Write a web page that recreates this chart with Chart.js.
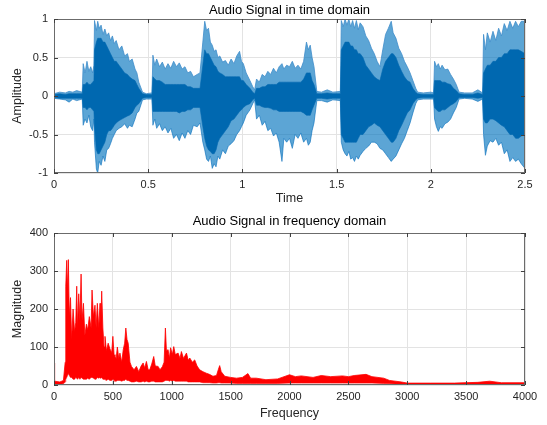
<!DOCTYPE html>
<html>
<head>
<meta charset="utf-8">
<script src="https://cdn.jsdelivr.net/npm/chart.js@4"></script>
<style>
  body { margin: 0; background: #fff; }
  canvas { position: absolute; left: 0; }
  #time_chart { top: 0; }
  #freq_chart { top: 210px; }
</style>
</head>
<body>
<canvas id="time_chart" width="547" height="210"></canvas>
<canvas id="freq_chart" width="547" height="215"></canvas>
<script>
// time domain envelopes (seconds / amplitude)
// one line per stretch of the recording
const time_t = [
  0, 0.03, 0.06, 0.08, 0.10, 0.12, 0.15,
  0.155, 0.165, 0.175, 0.185, 0.195, 0.205, 0.212,
  0.215, 0.225, 0.232, 0.24, 0.25, 0.26, 0.27, 0.28, 0.29, 0.30, 0.31, 0.32, 0.33, 0.345, 0.36, 0.375, 0.39, 0.40, 0.415, 0.43, 0.44, 0.45, 0.47,
  0.49, 0.52,
  0.525, 0.535, 0.545, 0.56, 0.575, 0.59, 0.605, 0.62, 0.635, 0.65, 0.665, 0.68, 0.695, 0.71, 0.725, 0.74, 0.76, 0.775,
  0.79, 0.80, 0.81, 0.82, 0.83, 0.84, 0.85, 0.86, 0.87, 0.88, 0.895, 0.91, 0.925, 0.94, 0.955, 0.97, 0.985, 0.995, 1.005, 1.02, 1.04, 1.055, 1.065,
  1.075, 1.09, 1.105, 1.12, 1.135, 1.15, 1.165, 1.18, 1.195, 1.21, 1.22, 1.235, 1.25, 1.265, 1.28, 1.295, 1.31, 1.325, 1.34, 1.35, 1.36, 1.37, 1.38,
  1.395, 1.42, 1.45, 1.48, 1.52,
  1.525, 1.535, 1.545, 1.555, 1.565, 1.575, 1.585, 1.595, 1.605, 1.615, 1.625, 1.64, 1.655, 1.67, 1.685, 1.70, 1.715, 1.73, 1.745, 1.76, 1.775, 1.79, 1.80, 1.815, 1.83, 1.845, 1.86, 1.875, 1.89, 1.905, 1.92, 1.93,
  1.96, 2.0, 2.015,
  2.02, 2.03, 2.04, 2.05, 2.06, 2.075, 2.09, 2.105, 2.12, 2.135, 2.15,
  2.18, 2.22, 2.25, 2.275,
  2.28, 2.29, 2.30, 2.315, 2.33, 2.345, 2.36, 2.375, 2.39, 2.405, 2.42, 2.435, 2.45, 2.465, 2.48, 2.5,
];
const outer_hi = [
  0.03, 0.05, 0.04, 0.06, 0.05, 0.07, 0.05,
  0.42, 0.3, 0.45, 0.32, 0.38, 0.3, 0.4,
  0.98, 0.85, 0.97, 0.88, 0.92, 0.8, 0.87, 0.78, 0.82, 0.72, 0.78, 0.68, 0.72, 0.6, 0.65, 0.52, 0.55, 0.45, 0.48, 0.35, 0.3, 0.18, 0.05,
  0.03, 0.04,
  0.53, 0.4, 0.48, 0.38, 0.44, 0.35, 0.42, 0.36, 0.45, 0.38, 0.43, 0.35, 0.38, 0.3, 0.32, 0.25, 0.28, 0.3,
  0.7, 0.97, 0.85, 0.88, 0.7, 0.66, 0.58, 0.6, 0.5, 0.52, 0.44, 0.46, 0.4, 0.48, 0.42, 0.52, 0.58, 0.45, 0.42, 0.3, 0.2, 0.12, 0.08,
  0.22, 0.18, 0.28, 0.25, 0.32, 0.28, 0.36, 0.3, 0.38, 0.42, 0.35, 0.4, 0.38, 0.45, 0.36, 0.4, 0.35, 0.45, 0.7, 0.6, 0.66, 0.5, 0.38,
  0.06, 0.05, 0.08, 0.05, 0.06,
  0.98, 0.9, 1.0, 0.92, 1.0, 0.9, 0.98, 0.88, 0.98, 0.86, 0.95, 0.9, 0.78, 0.72, 0.62, 0.55, 0.45, 0.38, 0.6, 0.8, 0.88, 0.97, 0.82, 0.75, 0.62, 0.55, 0.45, 0.38, 0.3, 0.2, 0.1, 0.05,
  0.04, 0.05, 0.04,
  0.45, 0.38, 0.42, 0.35, 0.4, 0.34, 0.35, 0.28, 0.22, 0.15, 0.05,
  0.04, 0.04, 0.08, 0.04,
  0.8, 0.6, 0.82, 0.7, 0.84, 0.72, 0.88, 0.78, 0.94, 0.85, 0.97, 0.88, 0.97, 0.9, 0.97, 0.97,
];
const outer_lo = [
  -0.03, -0.04, -0.05, -0.08, -0.04, -0.06, -0.04,
  -0.38, -0.3, -0.35, -0.25, -0.4, -0.45, -0.3,
  -0.6, -0.95, -1.0, -0.85, -0.9, -0.78, -0.85, -0.7, -0.68, -0.62, -0.55, -0.5, -0.45, -0.42, -0.4, -0.36, -0.42, -0.38, -0.4, -0.3, -0.22, -0.2, -0.05,
  -0.04, -0.04,
  -0.38, -0.3, -0.42, -0.36, -0.45, -0.4, -0.48, -0.42, -0.55, -0.5, -0.58, -0.48, -0.55, -0.45, -0.5, -0.38, -0.4, -0.35,
  -0.6, -0.7, -0.82, -0.85, -0.78, -0.94, -0.88, -0.92, -0.78, -0.82, -0.7, -0.75, -0.65, -0.62, -0.58, -0.5, -0.45, -0.4, -0.35, -0.25, -0.18, -0.1, -0.05,
  -0.3, -0.25, -0.38, -0.33, -0.45, -0.42, -0.52, -0.48, -0.6, -0.85, -0.55, -0.6, -0.55, -0.68, -0.5, -0.55, -0.48, -0.6, -0.55, -0.64, -0.6, -0.45, -0.35,
  -0.06, -0.06, -0.08, -0.05, -0.06,
  -0.6, -0.7, -0.75, -0.78, -0.72, -0.82, -0.8, -0.85, -0.78, -0.82, -0.77, -0.72, -0.68, -0.65, -0.6, -0.6, -0.62, -0.68, -0.7, -0.75, -0.8, -0.85, -0.82, -0.78, -0.7, -0.62, -0.55, -0.45, -0.35, -0.22, -0.1, -0.05,
  -0.04, -0.04, -0.04,
  -0.3, -0.4, -0.46, -0.4, -0.42, -0.36, -0.34, -0.3, -0.22, -0.15, -0.04,
  -0.03, -0.04, -0.07, -0.04,
  -0.5, -0.77, -0.65, -0.58, -0.6, -0.55, -0.64, -0.6, -0.75, -0.7, -0.85, -0.8, -0.85, -0.82, -0.88, -0.94,
];
const inner_hi = [
  0.02, 0.03, 0.02, 0.03, 0.03, 0.03, 0.03,
  0.15, 0.15, 0.18, 0.15, 0.15, 0.18, 0.2,
  0.6, 0.7, 0.75, 0.75, 0.75, 0.7, 0.7, 0.65, 0.6, 0.55, 0.5, 0.45, 0.45, 0.4, 0.35, 0.3, 0.28, 0.25, 0.22, 0.2, 0.15, 0.1, 0.03,
  0.02, 0.02,
  0.25, 0.22, 0.2, 0.2, 0.18, 0.15, 0.15, 0.15, 0.15, 0.15, 0.15, 0.15, 0.15, 0.12, 0.12, 0.1, 0.1, 0.1,
  0.4, 0.6, 0.55, 0.55, 0.5, 0.45, 0.4, 0.38, 0.32, 0.3, 0.28, 0.25, 0.25, 0.25, 0.25, 0.25, 0.25, 0.2, 0.2, 0.15, 0.1, 0.05, 0.03,
  0.1, 0.1, 0.12, 0.12, 0.15, 0.15, 0.15, 0.15, 0.18, 0.18, 0.18, 0.18, 0.18, 0.18, 0.18, 0.18, 0.18, 0.22, 0.3, 0.3, 0.3, 0.2, 0.15,
  0.03, 0.03, 0.04, 0.03, 0.03,
  0.6, 0.65, 0.7, 0.7, 0.7, 0.65, 0.65, 0.6, 0.6, 0.55, 0.55, 0.5, 0.4, 0.35, 0.3, 0.25, 0.22, 0.2, 0.35, 0.45, 0.5, 0.55, 0.55, 0.5, 0.4, 0.32, 0.25, 0.2, 0.18, 0.1, 0.05, 0.03,
  0.02, 0.02, 0.02,
  0.2, 0.2, 0.2, 0.2, 0.18, 0.18, 0.16, 0.15, 0.1, 0.07, 0.03,
  0.02, 0.02, 0.04, 0.02,
  0.3, 0.35, 0.4, 0.4, 0.45, 0.45, 0.5, 0.5, 0.55, 0.55, 0.6, 0.6, 0.6, 0.6, 0.58, 0.55,
];
const inner_lo = [
  -0.02, -0.03, -0.03, -0.03, -0.03, -0.03, -0.03,
  -0.15, -0.15, -0.18, -0.15, -0.15, -0.18, -0.2,
  -0.4, -0.7, -0.75, -0.75, -0.7, -0.65, -0.6, -0.5, -0.45, -0.45, -0.42, -0.38, -0.35, -0.32, -0.3, -0.28, -0.26, -0.25, -0.22, -0.15, -0.12, -0.1, -0.03,
  -0.02, -0.02,
  -0.2, -0.2, -0.2, -0.2, -0.2, -0.2, -0.2, -0.2, -0.2, -0.2, -0.22, -0.2, -0.2, -0.18, -0.18, -0.15, -0.15, -0.15,
  -0.4, -0.55, -0.65, -0.7, -0.72, -0.75, -0.75, -0.7, -0.6, -0.55, -0.5, -0.45, -0.4, -0.32, -0.3, -0.25, -0.2, -0.18, -0.15, -0.12, -0.1, -0.05, -0.03,
  -0.12, -0.12, -0.14, -0.15, -0.15, -0.16, -0.18, -0.18, -0.2, -0.2, -0.2, -0.2, -0.2, -0.2, -0.2, -0.2, -0.2, -0.22, -0.25, -0.25, -0.25, -0.18, -0.12,
  -0.03, -0.03, -0.04, -0.03, -0.03,
  -0.5, -0.55, -0.6, -0.6, -0.6, -0.6, -0.6, -0.6, -0.6, -0.55, -0.5, -0.5, -0.45, -0.4, -0.38, -0.35, -0.38, -0.4, -0.45, -0.5, -0.55, -0.6, -0.6, -0.55, -0.45, -0.38, -0.3, -0.22, -0.18, -0.1, -0.05, -0.03,
  -0.02, -0.02, -0.02,
  -0.15, -0.18, -0.2, -0.2, -0.18, -0.18, -0.15, -0.12, -0.1, -0.07, -0.02,
  -0.02, -0.02, -0.03, -0.02,
  -0.3, -0.35, -0.35, -0.3, -0.3, -0.32, -0.35, -0.38, -0.4, -0.45, -0.5, -0.5, -0.55, -0.55, -0.52, -0.5,
];
const time_ticks = [0, 0.5, 1, 1.5, 2, 2.5];
const amp_ticks = [-1, -0.5, 0, 0.5, 1];

// frequency domain envelope (Hz / magnitude)
const freq_f = [0, 5, 50, 80, 95, 100, 108, 115, 122, 130, 140, 150, 162, 175, 185, 193, 200, 210, 220, 230,
  238, 250, 262, 275, 286, 300, 315, 323, 335, 348, 358, 368, 380, 391, 398, 405, 415, 425, 433, 445,
  460, 475, 490, 500, 510, 518, 528, 538, 550, 560, 575, 588, 600, 610, 620, 630, 645, 658, 680, 700,
  720, 740, 757, 770, 785, 800, 813, 830, 847, 860, 884, 900, 920, 935, 946, 955, 969, 980, 990, 1005,
  1017, 1030, 1054, 1070, 1082, 1100, 1125, 1140, 1153, 1175, 1195, 1215, 1237, 1265, 1294, 1320, 1350, 1380, 1395, 1407,
  1420, 1450, 1500, 1550, 1600, 1647, 1670, 1718, 1800, 1900, 2000, 2050, 2100, 2200, 2270, 2350, 2450, 2500, 2550, 2650,
  2700, 2800, 2850, 2950, 3000, 3200, 3400, 3600, 3700, 3800, 4000];
const mag_hi = [58, 10, 8, 12, 60, 260, 328, 250, 330, 180, 230, 120, 200, 140, 165, 260, 150, 240, 170, 292,
  170, 215, 130, 160, 145, 180, 150, 250, 180, 210, 150, 215, 150, 215, 160, 247, 150, 100, 128, 90,
  110, 95, 85, 128, 80, 75, 70, 100, 70, 84, 60, 93, 110, 150, 120, 110, 60, 49, 40, 49,
  35, 50, 58, 45, 62, 40, 40, 55, 75, 50, 49, 40, 48, 60, 150, 90, 93, 70, 98, 80,
  101, 80, 84, 70, 88, 70, 84, 65, 71, 60, 66, 50, 40, 35, 31, 28, 23, 25, 40, 51,
  35, 23, 20, 18, 20, 30, 18, 18, 14, 16, 27, 22, 24, 20, 25, 22, 24, 22, 25, 28,
  22, 18, 12, 8, 5, 5, 5, 7, 10, 6, 6];
const mag_lo = [0, 2, 2, 3, 8, 15, 20, 25, 30, 25, 20, 20, 15, 15, 20, 18, 15, 20, 15, 20,
  18, 15, 15, 15, 18, 15, 20, 20, 18, 15, 15, 20, 18, 20, 18, 20, 15, 15, 15, 12,
  15, 12, 12, 15, 10, 10, 10, 12, 12, 12, 10, 12, 12, 15, 12, 12, 10, 8, 8, 10,
  8, 8, 10, 8, 10, 8, 8, 10, 10, 8, 8, 8, 8, 10, 12, 12, 12, 10, 12, 10,
  12, 10, 10, 10, 10, 10, 10, 8, 8, 8, 8, 8, 8, 6, 6, 6, 5, 5, 6, 6,
  5, 5, 5, 4, 4, 4, 4, 4, 4, 4, 5, 5, 5, 5, 5, 5, 5, 5, 5, 5,
  5, 4, 3, 2, 2, 2, 2, 2, 2, 2, 2];
const freq_ticks = [0, 500, 1000, 1500, 2000, 2500, 3000, 3500, 4000];
const mag_ticks = [0, 100, 200, 300, 400];

const FONT = "'Liberation Sans', Arial, sans-serif";
const TXT = "#262626";

function pts(xs, ys) {
  return xs.map((x, i) => ({ x: x, y: ys[i] }));
}

// box, inward ticks on all sides and title centred over the plot area
const box_plugin = {
  id: "box",
  afterDraw(chart, args, opts) {
    const { ctx, chartArea: a, scales } = chart;
    ctx.save();
    ctx.strokeStyle = "#6b6b6b";
    ctx.lineWidth = 1;
    ctx.strokeRect(Math.round(a.left) + 0.5, Math.round(a.top) + 0.5,
      Math.round(a.right - a.left) - 1, Math.round(a.bottom - a.top) - 1);
    ctx.strokeStyle = "#404040";
    ctx.beginPath();
    opts.xt.forEach((v) => {
      const px = Math.round(scales.x.getPixelForValue(v)) + 0.5;
      ctx.moveTo(px, a.bottom); ctx.lineTo(px, a.bottom - 4);
      ctx.moveTo(px, a.top); ctx.lineTo(px, a.top + 4);
    });
    opts.yt.forEach((v) => {
      const py = Math.round(scales.y.getPixelForValue(v)) + 0.5;
      ctx.moveTo(a.left, py); ctx.lineTo(a.left + 4, py);
      ctx.moveTo(a.right, py); ctx.lineTo(a.right - 4, py);
    });
    ctx.stroke();
    ctx.fillStyle = "#000";
    ctx.font = "13px " + FONT;
    ctx.textAlign = "center";
    ctx.textBaseline = "middle";
    ctx.fillText(opts.text, (a.left + a.right) / 2, opts.y);
    ctx.restore();
  },
};

function axes(xmin, xmax, xstep, xtitle, ymin, ymax, ystep, ytitle, xh) {
  const tick_font = { family: FONT, size: 11 };
  const title_font = { family: FONT, size: 12.5 };
  return {
    x: {
      type: "linear", min: xmin, max: xmax,
      afterFit: (s) => { s.height = xh; },
      ticks: { stepSize: xstep, color: TXT, font: tick_font, padding: 5, maxRotation: 0,
        callback: (v) => String(v) },
      grid: { color: "#e3e3e3", drawTicks: false },
      border: { display: false },
      title: { display: true, text: xtitle, color: TXT, font: title_font, padding: { top: 0, bottom: 4 } },
    },
    y: {
      type: "linear", min: ymin, max: ymax,
      afterFit: (s) => { s.width = 54; },
      ticks: { stepSize: ystep, color: TXT, font: tick_font, padding: 6,
        callback: (v) => String(v) },
      grid: { color: "#e3e3e3", drawTicks: false },
      border: { display: false },
      title: { display: true, text: ytitle, color: TXT, font: title_font, padding: { top: 10, bottom: 0 } },
    },
  };
}

const time_chart = new Chart(document.getElementById("time_chart"), {
  type: "line",
  data: {
    datasets: [
      { data: pts(time_t, inner_hi), borderColor: "#0068b0", backgroundColor: "#0068b0", borderWidth: 0.6, fill: "+1" },
      { data: pts(time_t, inner_lo), borderColor: "#0068b0", borderWidth: 0.6, fill: false },
      { data: pts(time_t, outer_hi), borderColor: "#3f8dca", backgroundColor: "rgba(0,114,189,0.64)", borderWidth: 0.8, fill: "+1" },
      { data: pts(time_t, outer_lo), borderColor: "#3f8dca", borderWidth: 0.8, fill: false },
    ],
  },
  options: {
    responsive: false,
    animation: false,
    devicePixelRatio: 1,
    layout: { padding: { left: 0, right: 22, top: 19, bottom: 0 } },
    elements: { point: { radius: 0 }, line: { tension: 0 } },
    plugins: {
      legend: { display: false },
      tooltip: { enabled: false },
      box: { text: "Audio Signal in time domain", y: 10, xt: time_ticks, yt: amp_ticks },
    },
    scales: axes(0, 2.5, 0.5, "Time", -1, 1, 0.5, "Amplitude", 37),
  },
  plugins: [box_plugin],
});

const freq_chart = new Chart(document.getElementById("freq_chart"), {
  type: "line",
  data: {
    datasets: [
      { data: pts(freq_f, mag_hi), borderColor: "#ff0000", backgroundColor: "#ff0000", borderWidth: 0.8, fill: "+1" },
      { data: pts(freq_f, mag_lo), borderColor: "#ff0000", borderWidth: 0.6, fill: false },
    ],
  },
  options: {
    responsive: false,
    animation: false,
    devicePixelRatio: 1,
    layout: { padding: { left: 0, right: 22, top: 23, bottom: 0 } },
    elements: { point: { radius: 0 }, line: { tension: 0 } },
    plugins: {
      legend: { display: false },
      tooltip: { enabled: false },
      box: { text: "Audio Signal in frequency domain", y: 11, xt: freq_ticks, yt: mag_ticks },
    },
    scales: axes(0, 4000, 500, "Frequency", 0, 400, 100, "Magnitude", 40),
  },
  plugins: [box_plugin],
});
</script>
</body>
</html>
